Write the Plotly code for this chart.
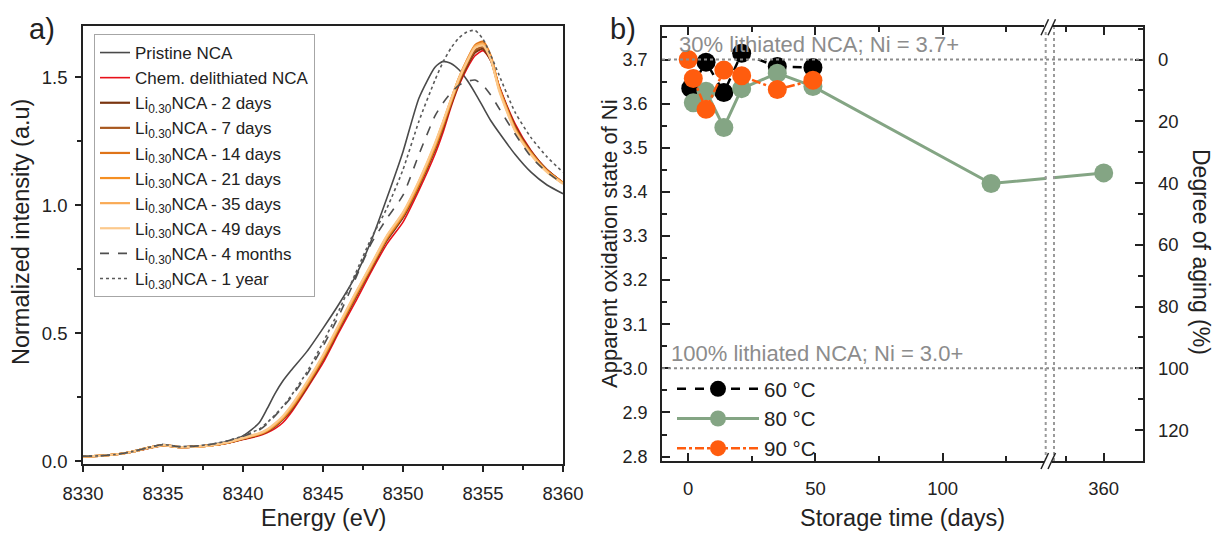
import plotly.graph_objects as go

W, H = 1213, 533

# ---- panel a: Ni K-edge XANES ----
energy = [8330, 8331, 8332, 8333, 8334, 8335, 8336, 8337, 8338, 8339, 8340,
          8341, 8341.5, 8342, 8342.5, 8343, 8344, 8345, 8346, 8347, 8348,
          8349, 8350, 8351, 8352, 8352.5, 8353, 8353.5, 8354, 8354.5, 8355,
          8355.5, 8356, 8357, 8358, 8359, 8360]

pristine = [0.020, 0.022, 0.027, 0.037, 0.052, 0.066, 0.057, 0.060, 0.066, 0.078, 0.100,
            0.150, 0.205, 0.265, 0.315, 0.355, 0.430, 0.520, 0.615, 0.720, 0.860,
            1.030, 1.210, 1.420, 1.540, 1.563, 1.555, 1.530, 1.490, 1.440, 1.385,
            1.330, 1.285, 1.200, 1.130, 1.080, 1.046]
chem_delith = [0.020, 0.022, 0.027, 0.036, 0.050, 0.062, 0.055, 0.057, 0.062, 0.071, 0.086,
               0.100, 0.112, 0.128, 0.152, 0.190, 0.285, 0.385, 0.505, 0.620, 0.740,
               0.850, 0.935, 1.060, 1.200, 1.285, 1.385, 1.470, 1.535, 1.585, 1.605,
               1.565, 1.470, 1.320, 1.215, 1.140, 1.090]
li030_2d = [0.020, 0.022, 0.027, 0.037, 0.051, 0.063, 0.056, 0.058, 0.063, 0.072, 0.088,
            0.104, 0.117, 0.137, 0.165, 0.200, 0.292, 0.397, 0.517, 0.636, 0.752,
            0.865, 0.953, 1.075, 1.218, 1.302, 1.395, 1.478, 1.545, 1.598, 1.612,
            1.565, 1.462, 1.310, 1.210, 1.138, 1.088]
li030_7d = [0.020, 0.022, 0.027, 0.037, 0.052, 0.064, 0.056, 0.058, 0.063, 0.072, 0.089,
            0.105, 0.118, 0.139, 0.167, 0.203, 0.296, 0.401, 0.521, 0.640, 0.756,
            0.870, 0.958, 1.080, 1.224, 1.308, 1.400, 1.484, 1.552, 1.606, 1.620,
            1.570, 1.462, 1.305, 1.208, 1.136, 1.088]
li030_14d = [0.020, 0.022, 0.027, 0.037, 0.052, 0.064, 0.056, 0.058, 0.063, 0.073, 0.090,
             0.107, 0.121, 0.144, 0.172, 0.210, 0.303, 0.408, 0.528, 0.648, 0.763,
             0.877, 0.966, 1.090, 1.236, 1.322, 1.412, 1.498, 1.568, 1.626, 1.640,
             1.582, 1.462, 1.298, 1.203, 1.133, 1.086]
li030_21d = [0.020, 0.022, 0.027, 0.037, 0.052, 0.064, 0.056, 0.058, 0.063, 0.073, 0.090,
             0.106, 0.120, 0.142, 0.170, 0.207, 0.300, 0.405, 0.525, 0.645, 0.760,
             0.874, 0.963, 1.085, 1.230, 1.315, 1.405, 1.490, 1.560, 1.620, 1.630,
             1.575, 1.460, 1.300, 1.205, 1.135, 1.088]
li030_35d = [0.020, 0.022, 0.027, 0.037, 0.052, 0.064, 0.056, 0.058, 0.063, 0.074, 0.091,
             0.108, 0.123, 0.146, 0.175, 0.213, 0.307, 0.412, 0.532, 0.652, 0.766,
             0.880, 0.970, 1.094, 1.240, 1.325, 1.414, 1.498, 1.566, 1.622, 1.632,
             1.574, 1.455, 1.295, 1.200, 1.132, 1.086]
li030_49d = [0.020, 0.022, 0.027, 0.037, 0.052, 0.064, 0.056, 0.058, 0.063, 0.074, 0.092,
             0.110, 0.125, 0.149, 0.178, 0.217, 0.311, 0.416, 0.536, 0.655, 0.769,
             0.883, 0.973, 1.097, 1.243, 1.327, 1.414, 1.496, 1.562, 1.616, 1.625,
             1.568, 1.450, 1.292, 1.198, 1.130, 1.085]
li030_4m = [0.020, 0.022, 0.027, 0.037, 0.053, 0.066, 0.058, 0.060, 0.067, 0.080, 0.098,
            0.122, 0.146, 0.178, 0.212, 0.250, 0.340, 0.450, 0.570, 0.710, 0.850,
            0.950, 1.040, 1.200, 1.350, 1.400, 1.440, 1.470, 1.485, 1.490, 1.470,
            1.430, 1.380, 1.280, 1.190, 1.130, 1.085]
li030_1y = [0.020, 0.022, 0.027, 0.037, 0.053, 0.066, 0.058, 0.060, 0.067, 0.080, 0.100,
            0.126, 0.151, 0.182, 0.216, 0.256, 0.350, 0.465, 0.590, 0.730, 0.870,
            0.990, 1.140, 1.330, 1.490, 1.560, 1.615, 1.655, 1.678, 1.684, 1.650,
            1.585, 1.510, 1.365, 1.265, 1.190, 1.130]

LI = "Li<sub>0.30</sub>NCA - "
spectra = [
    ("Pristine NCA", pristine, "#4a4a4a", "solid", 1.6),
    ("Chem. delithiated NCA", chem_delith, "#e8101a", "solid", 1.6),
    (LI + "2 days", li030_2d, "#7a3510", "solid", 2.2),
    (LI + "7 days", li030_7d, "#a8581f", "solid", 2.2),
    (LI + "14 days", li030_14d, "#df7418", "solid", 2.2),
    (LI + "21 days", li030_21d, "#f58f22", "solid", 2.2),
    (LI + "35 days", li030_35d, "#f9aa55", "solid", 2.2),
    (LI + "49 days", li030_49d, "#fcc98c", "solid", 2.2),
    (LI + "4 months", li030_4m, "#4f4f4f", "dash", 1.6),
    (LI + "1 year", li030_1y, "#5a5a5a", "dot", 1.6),
]

# ---- panel b: Ni oxidation state vs storage time ----
days_60 = [1, 7, 14, 21, 35, 49]
ox_60 = [3.635, 3.694, 3.625, 3.714, 3.684, 3.682]
days_80 = [2, 7, 14, 21, 35, 49, 119, 360]
ox_80 = [3.602, 3.628, 3.546, 3.634, 3.669, 3.639, 3.419, 3.443]
days_90 = [0, 2, 7, 14, 21, 35, 49]
ox_90 = [3.700, 3.657, 3.587, 3.676, 3.663, 3.632, 3.653]

x_ticks_days = [0, 50, 100, 360]
x_minor_days = [25, 75, 125, 340]
ox_ref_30 = 3.7   # 30% lithiated
ox_ref_100 = 3.0  # 100% lithiated

# broken x axis: 0..140 days as is, then 330..380 compressed
BREAK_LO, SEG2_START, SEG2_POS, SEG2_SCALE = 140, 330, 140.75, 0.75


def axis_pos(d):
    return d if d <= BREAK_LO else SEG2_POS + (d - SEG2_START) * SEG2_SCALE


def aging(ox):
    return (ox_ref_30 - ox) / (ox_ref_30 - ox_ref_100) * 100


def px(x):
    return x / W


def py(y):
    return 1 - y / H


FONT = "Arial, Liberation Sans, sans-serif"
fig = go.Figure()

for name, vals, col, dash, w in spectra:
    fig.add_trace(go.Scatter(
        x=energy, y=vals, name=name, mode="lines",
        line=dict(color=col, dash=dash, width=w, shape="spline", smoothing=0.6),
        xaxis="x", yaxis="y", legend="legend",
    ))

series_b = [
    ("60 °C", days_60, ox_60, "#000000", "dash", 2.5),
    ("80 °C", days_80, ox_80, "#84a584", "solid", 3),
    ("90 °C", days_90, ox_90, "#ff5c0e", "dashdot", 2.5),
]
for name, d, ox, col, dash, w in series_b:
    fig.add_trace(go.Scatter(
        x=[axis_pos(v) for v in d], y=ox, name=name, mode="lines+markers",
        line=dict(color=col, dash=dash, width=w),
        marker=dict(color=col, size=19),
        xaxis="x2", yaxis="y2", legend="legend2",
    ))

# dummy trace so the right-hand axis is drawn
fig.add_trace(go.Scatter(x=[None], y=[None], xaxis="x2", yaxis="y3",
                         showlegend=False, hoverinfo="skip"))

y2_range = [2.79, 3.773]

axis_common = dict(showgrid=False, zeroline=False, showline=True, linecolor="#222",
                   linewidth=1.5, tickcolor="#222", tickwidth=1.5,
                   tickfont=dict(size=18.5, color="#222"), automargin=False)

fig.update_layout(
    width=W, height=H, template="none",
    margin=dict(l=0, r=0, t=0, b=0),
    paper_bgcolor="white", plot_bgcolor="white",
    font=dict(family=FONT, color="#222"),
    xaxis=dict(domain=[px(83), px(563)], anchor="y", range=[8330, 8360],
               tick0=8330, dtick=5, ticks="outside", ticklen=6, mirror=True,
               ticklabelstandoff=6,
               minor=dict(dtick=2.5, ticks="outside", ticklen=4, tickcolor="#222"),
               **axis_common),
    yaxis=dict(domain=[py(464), py(26.3)], anchor="x", range=[-0.01, 1.70],
               tickvals=[0, 0.5, 1.0, 1.5], ticktext=["0.0", "0.5", "1.0", "1.5"],
               ticks="outside", ticklen=6, mirror=True, ticklabelstandoff=4,
               minor=dict(dtick=0.25, tick0=0, ticks="outside", ticklen=4, tickcolor="#222"),
               **axis_common),
    xaxis2=dict(domain=[px(662), px(1142.5)], anchor="y2", range=[-10.3, 178.5],
                tickvals=[axis_pos(v) for v in x_ticks_days],
                ticktext=[str(v) for v in x_ticks_days],
                ticks="inside", ticklen=8, mirror="ticks", ticklabelstandoff=10,
                minor=dict(tickvals=[axis_pos(v) for v in x_minor_days], ticks="inside",
                           ticklen=5, tickcolor="#222"),
                **axis_common),
    yaxis2=dict(domain=[py(461), py(27.3)], anchor="x2", range=y2_range,
                tick0=2.8, dtick=0.1, tickformat=".1f", ticks="inside", ticklen=8,
                ticklabelstandoff=9,
                minor=dict(dtick=0.05, tick0=2.8, ticks="inside", ticklen=5, tickcolor="#222"),
                **{**axis_common, "tickfont": dict(size=18, color="#222")}),
    yaxis3=dict(overlaying="y2", anchor="x2", side="right",
                range=[aging(y2_range[0]), aging(y2_range[1])],
                tick0=0, dtick=20, ticks="inside", ticklen=8, ticklabelstandoff=10,
                minor=dict(dtick=10, tick0=0, ticks="inside", ticklen=5, tickcolor="#222"),
                **axis_common),
    legend=dict(x=px(94), y=py(34), xanchor="left", yanchor="top",
                bgcolor="white", bordercolor="#a6a6a6", borderwidth=1,
                font=dict(size=17, family=FONT, color="#222"),
                tracegroupgap=0),
    legend2=dict(x=px(672), y=py(369), xanchor="left", yanchor="top",
                 bgcolor="rgba(0,0,0,0)", borderwidth=0,
                 font=dict(size=20.5, family=FONT, color="#222"),
                 tracegroupgap=0, itemwidth=82),
)

# reference levels and the axis break
shapes = []
for lvl in (ox_ref_30, ox_ref_100):
    shapes.append(dict(type="line", xref="x2 domain", yref="y2", x0=0, x1=1,
                       y0=lvl, y1=lvl, line=dict(color="#8c8c8c", width=2, dash="dot")))
shapes.append(dict(type="rect", xref="paper", yref="y2", x0=px(1046.5), x1=px(1053.3),
                   y0=3.40, y1=3.47, fillcolor="white", line=dict(width=0), layer="above"))
for xb in (1045.7, 1054):
    shapes.append(dict(type="line", xref="paper", yref="y2 domain", x0=px(xb), x1=px(xb),
                       y0=0, y1=1, line=dict(color="#9a9a9a", width=2, dash="dot"), layer="above"))
for yb in (27.3, 461):
    shapes.append(dict(type="rect", xref="paper", yref="paper", x0=px(1044), x1=px(1052),
                       y0=py(yb + 2.5), y1=py(yb - 2.5), fillcolor="white",
                       line=dict(width=0), layer="above"))
    for dx in (0, 7):
        shapes.append(dict(type="line", xref="paper", yref="paper",
                           x0=px(1041 + dx), x1=px(1048.5 + dx),
                           y0=py(yb + 8), y1=py(yb - 8),
                           line=dict(color="#222", width=1.5), layer="above"))
fig.update_layout(shapes=shapes)

ann = [
    dict(text="a)", x=px(42), y=py(29), font=dict(size=29)),
    dict(text="b)", x=px(623), y=py(29), font=dict(size=29)),
    dict(text="Energy (eV)", x=px(323), y=py(518), font=dict(size=23.5)),
    dict(text="Storage time (days)", x=px(902), y=py(518), font=dict(size=23.5)),
    dict(text="Normalized intensity (a.u)", x=px(21), y=py(232), textangle=-90,
         font=dict(size=23.5)),
    dict(text="Apparent oxidation state of Ni", x=px(609), y=py(244), textangle=-90,
         font=dict(size=22)),
    dict(text="Degree of aging (%)", x=px(1201), y=py(252), textangle=90, font=dict(size=23)),
]
for a in ann:
    a.update(xref="paper", yref="paper", showarrow=False, xanchor="center", yanchor="middle")
    a["font"].update(family=FONT, color="#222")
ann += [
    dict(text="30% lithiated NCA; Ni = 3.7+", x=px(677), y=py(45), xref="paper", yref="paper",
         showarrow=False, xanchor="left", yanchor="middle",
         font=dict(size=22, family=FONT, color="#8c8c8c")),
    dict(text="100% lithiated NCA; Ni = 3.0+", x=px(669), y=py(353), xref="paper", yref="paper",
         showarrow=False, xanchor="left", yanchor="middle",
         font=dict(size=22, family=FONT, color="#8c8c8c")),
]
fig.update_layout(annotations=ann)

fig.write_html("out.html", config={"displayModeBar": False},
               post_script="document.body.style.margin='0';document.body.style.padding='0';")
